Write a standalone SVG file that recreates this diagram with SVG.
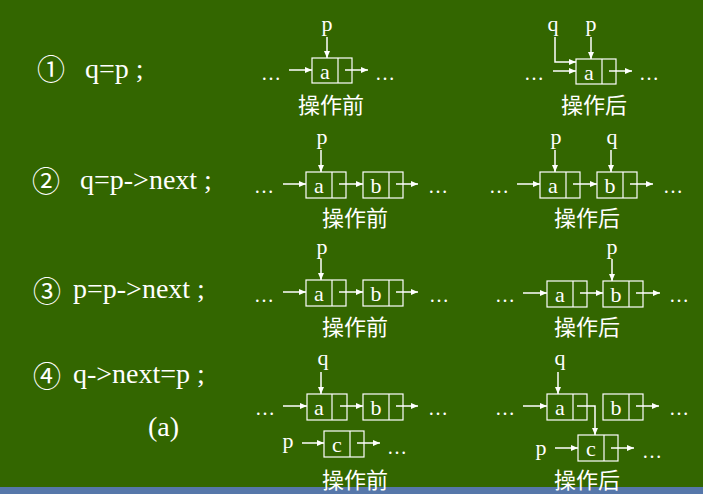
<svg xmlns="http://www.w3.org/2000/svg" width="703" height="494" viewBox="0 0 703 494">
<defs>
<marker id="ah" markerUnits="userSpaceOnUse" markerWidth="7" markerHeight="6" refX="7" refY="3" orient="auto">
<path d="M0,0 L7,3 L0,6 z" fill="#ffffff"/>
</marker>
<style>
.bg{fill:#336600}
.bar{fill:#5677aa}
.box{fill:none;stroke:#ffffff;stroke-width:1.2}
.ln{fill:none;stroke:#ffffff;stroke-width:1.5;marker-end:url(#ah)}
.t{font-family:"Liberation Serif","Times New Roman",serif;fill:#ffffff}
.stmt{font-size:28px}
.num{font-family:"Noto Sans CJK SC","DejaVu Sans",sans-serif;font-size:28px;fill:#ffffff;text-anchor:middle}
.v{font-size:22px;text-anchor:middle}
.dots{font-size:20px;text-anchor:middle}
.cap{font-family:"Noto Sans CJK SC","Noto Sans CJK JP",sans-serif;font-size:22px;fill:#ffffff;text-anchor:middle}
</style>
</defs>
<rect class="bg" x="0" y="0" width="703" height="494"/>
<rect class="bar" x="0" y="487" width="703" height="7"/>

<g id="labels">
<text class="num" x="51" y="80">①</text>
<text class="t stmt" x="85" y="78">q=p ;</text>
<text class="num" x="46" y="192">②</text>
<text class="t stmt" x="80" y="189">q=p-&gt;next ;</text>
<text class="num" x="47" y="302">③</text>
<text class="t stmt" x="73" y="298">p=p-&gt;next ;</text>
<text class="num" x="47" y="387">④</text>
<text class="t stmt" x="73" y="383">q-&gt;next=p ;</text>
<text class="t stmt" x="148" y="436">(a)</text>
</g>

<!-- Panel 1 before -->
<g id="p1-before">
<g id="p1b-a"><rect class="box" x="312" y="58" width="40" height="25"/><line class="box" x1="338" y1="58" x2="338" y2="83"/><text class="t v" x="325" y="79">a</text></g>
<text class="t v" x="327" y="31">p</text>
<text class="t dots" x="271" y="80">…</text>
<text class="t dots" x="385" y="80">…</text>
<text class="cap" x="331" y="113">操作前</text>
</g>
<!-- Panel 1 after -->
<g id="p1-after">
<g id="p1a-a"><rect class="box" x="576" y="59" width="40" height="25"/><line class="box" x1="602" y1="59" x2="602" y2="84"/><text class="t v" x="589" y="80">a</text></g>
<text class="t v" x="553" y="31">q</text>
<text class="t v" x="591" y="31">p</text>
<text class="t dots" x="534" y="80">…</text>
<text class="t dots" x="649" y="80">…</text>
<text class="cap" x="594" y="113">操作后</text>
</g>

<!-- Panel 2 before -->
<g id="p2-before">
<g id="p2b-a"><rect class="box" x="306" y="172" width="40" height="26"/><line class="box" x1="332" y1="172" x2="332" y2="198"/><text class="t v" x="319" y="193">a</text></g>
<g id="p2b-b"><rect class="box" x="363" y="172" width="40" height="26"/><line class="box" x1="389" y1="172" x2="389" y2="198"/><text class="t v" x="376" y="193">b</text></g>
<text class="t v" x="322" y="144">p</text>
<text class="t dots" x="264" y="193">…</text>
<text class="t dots" x="438" y="193">…</text>
<text class="cap" x="355" y="226">操作前</text>
</g>
<!-- Panel 2 after -->
<g id="p2-after">
<g id="p2a-a"><rect class="box" x="540" y="172" width="40" height="26"/><line class="box" x1="566" y1="172" x2="566" y2="198"/><text class="t v" x="553" y="193">a</text></g>
<g id="p2a-b"><rect class="box" x="597" y="172" width="40" height="26"/><line class="box" x1="623" y1="172" x2="623" y2="198"/><text class="t v" x="610" y="193">b</text></g>
<text class="t v" x="556" y="144">p</text>
<text class="t v" x="612" y="144">q</text>
<text class="t dots" x="499" y="193">…</text>
<text class="t dots" x="673" y="193">…</text>
<text class="cap" x="587" y="226">操作后</text>
</g>

<!-- Panel 3 before -->
<g id="p3-before">
<g id="p3b-a"><rect class="box" x="306" y="280" width="40" height="26"/><line class="box" x1="332" y1="280" x2="332" y2="306"/><text class="t v" x="319" y="301">a</text></g>
<g id="p3b-b"><rect class="box" x="363" y="280" width="40" height="26"/><line class="box" x1="389" y1="280" x2="389" y2="306"/><text class="t v" x="376" y="301">b</text></g>
<text class="t v" x="322" y="254">p</text>
<text class="t dots" x="264" y="302">…</text>
<text class="t dots" x="439" y="302">…</text>
<text class="cap" x="355" y="335">操作前</text>
</g>
<!-- Panel 3 after -->
<g id="p3-after">
<g id="p3a-a"><rect class="box" x="547" y="281" width="40" height="26"/><line class="box" x1="573" y1="281" x2="573" y2="307"/><text class="t v" x="560" y="302">a</text></g>
<g id="p3a-b"><rect class="box" x="603" y="281" width="40" height="26"/><line class="box" x1="629" y1="281" x2="629" y2="307"/><text class="t v" x="616" y="302">b</text></g>
<text class="t v" x="612" y="254">p</text>
<text class="t dots" x="505" y="302">…</text>
<text class="t dots" x="679" y="302">…</text>
<text class="cap" x="587" y="335">操作后</text>
</g>

<!-- Panel 4 before -->
<g id="p4-before">
<g id="p4b-a"><rect class="box" x="307" y="394" width="40" height="26"/><line class="box" x1="332" y1="394" x2="332" y2="420"/><text class="t v" x="319" y="415">a</text></g>
<g id="p4b-b"><rect class="box" x="363" y="394" width="40" height="26"/><line class="box" x1="389" y1="394" x2="389" y2="420"/><text class="t v" x="376" y="415">b</text></g>
<g id="p4b-c"><rect class="box" x="324" y="431" width="40" height="26"/><line class="box" x1="350" y1="431" x2="350" y2="457"/><text class="t v" x="337" y="452">c</text></g>
<text class="t v" x="323" y="365">q</text>
<text class="t v" x="288" y="448">p</text>
<text class="t dots" x="265" y="415">…</text>
<text class="t dots" x="438" y="415">…</text>
<text class="t dots" x="397" y="454">…</text>
<text class="cap" x="355" y="488">操作前</text>
</g>
<!-- Panel 4 after -->
<g id="p4-after">
<g id="p4a-a"><rect class="box" x="547" y="394" width="40" height="26"/><line class="box" x1="573" y1="394" x2="573" y2="420"/><text class="t v" x="560" y="415">a</text></g>
<g id="p4a-b"><rect class="box" x="603" y="394" width="40" height="26"/><line class="box" x1="629" y1="394" x2="629" y2="420"/><text class="t v" x="616" y="415">b</text></g>
<g id="p4a-c"><rect class="box" x="578" y="435" width="40" height="26"/><line class="box" x1="604" y1="435" x2="604" y2="461"/><text class="t v" x="591" y="456">c</text></g>
<text class="t v" x="560" y="365">q</text>
<text class="t v" x="541" y="455">p</text>
<text class="t dots" x="505" y="415">…</text>
<text class="t dots" x="679" y="415">…</text>
<text class="t dots" x="652" y="458">…</text>
<text class="cap" x="587" y="488">操作后</text>
</g>

<g id="connectors">
<!-- panel 1 before -->
<line class="ln" x1="327" y1="37" x2="327" y2="58"/>
<line class="ln" x1="289" y1="70" x2="312" y2="70"/>
<line class="ln" x1="345" y1="70" x2="368" y2="70"/>
<!-- panel 1 after -->
<line class="ln" x1="591" y1="37" x2="591" y2="59"/>
<polyline class="ln" points="555,37 555,62 576,62"/>
<line class="ln" x1="553" y1="71" x2="576" y2="71"/>
<line class="ln" x1="609" y1="71" x2="632" y2="71"/>
<!-- panel 2 before -->
<line class="ln" x1="321" y1="150" x2="321" y2="172"/>
<line class="ln" x1="283" y1="184" x2="306" y2="184"/>
<line class="ln" x1="339" y1="184" x2="363" y2="184"/>
<line class="ln" x1="396" y1="184" x2="418" y2="184"/>
<!-- panel 2 after -->
<line class="ln" x1="555" y1="150" x2="555" y2="172"/>
<line class="ln" x1="611" y1="150" x2="611" y2="172"/>
<line class="ln" x1="517" y1="184" x2="540" y2="184"/>
<line class="ln" x1="573" y1="184" x2="597" y2="184"/>
<line class="ln" x1="630" y1="184" x2="653" y2="184"/>
<!-- panel 3 before -->
<line class="ln" x1="321" y1="259" x2="321" y2="280"/>
<line class="ln" x1="283" y1="292" x2="306" y2="292"/>
<line class="ln" x1="339" y1="292" x2="363" y2="292"/>
<line class="ln" x1="396" y1="292" x2="418" y2="292"/>
<!-- panel 3 after -->
<line class="ln" x1="612" y1="259" x2="612" y2="281"/>
<line class="ln" x1="523" y1="293" x2="547" y2="293"/>
<line class="ln" x1="580" y1="293" x2="603" y2="293"/>
<line class="ln" x1="636" y1="293" x2="660" y2="293"/>
<!-- panel 4 before -->
<line class="ln" x1="321" y1="372" x2="321" y2="394"/>
<line class="ln" x1="283" y1="406" x2="307" y2="406"/>
<line class="ln" x1="340" y1="406" x2="363" y2="406"/>
<line class="ln" x1="396" y1="406" x2="418" y2="406"/>
<line class="ln" x1="302" y1="443" x2="324" y2="443"/>
<line class="ln" x1="357" y1="443" x2="380" y2="443"/>
<!-- panel 4 after -->
<line class="ln" x1="558" y1="372" x2="558" y2="394"/>
<line class="ln" x1="523" y1="406" x2="547" y2="406"/>
<polyline class="ln" points="577,406 595,406 595,435"/>
<line class="ln" x1="636" y1="406" x2="659" y2="406"/>
<line class="ln" x1="555" y1="448" x2="578" y2="448"/>
<line class="ln" x1="611" y1="448" x2="634" y2="448"/>
</g>
</svg>
